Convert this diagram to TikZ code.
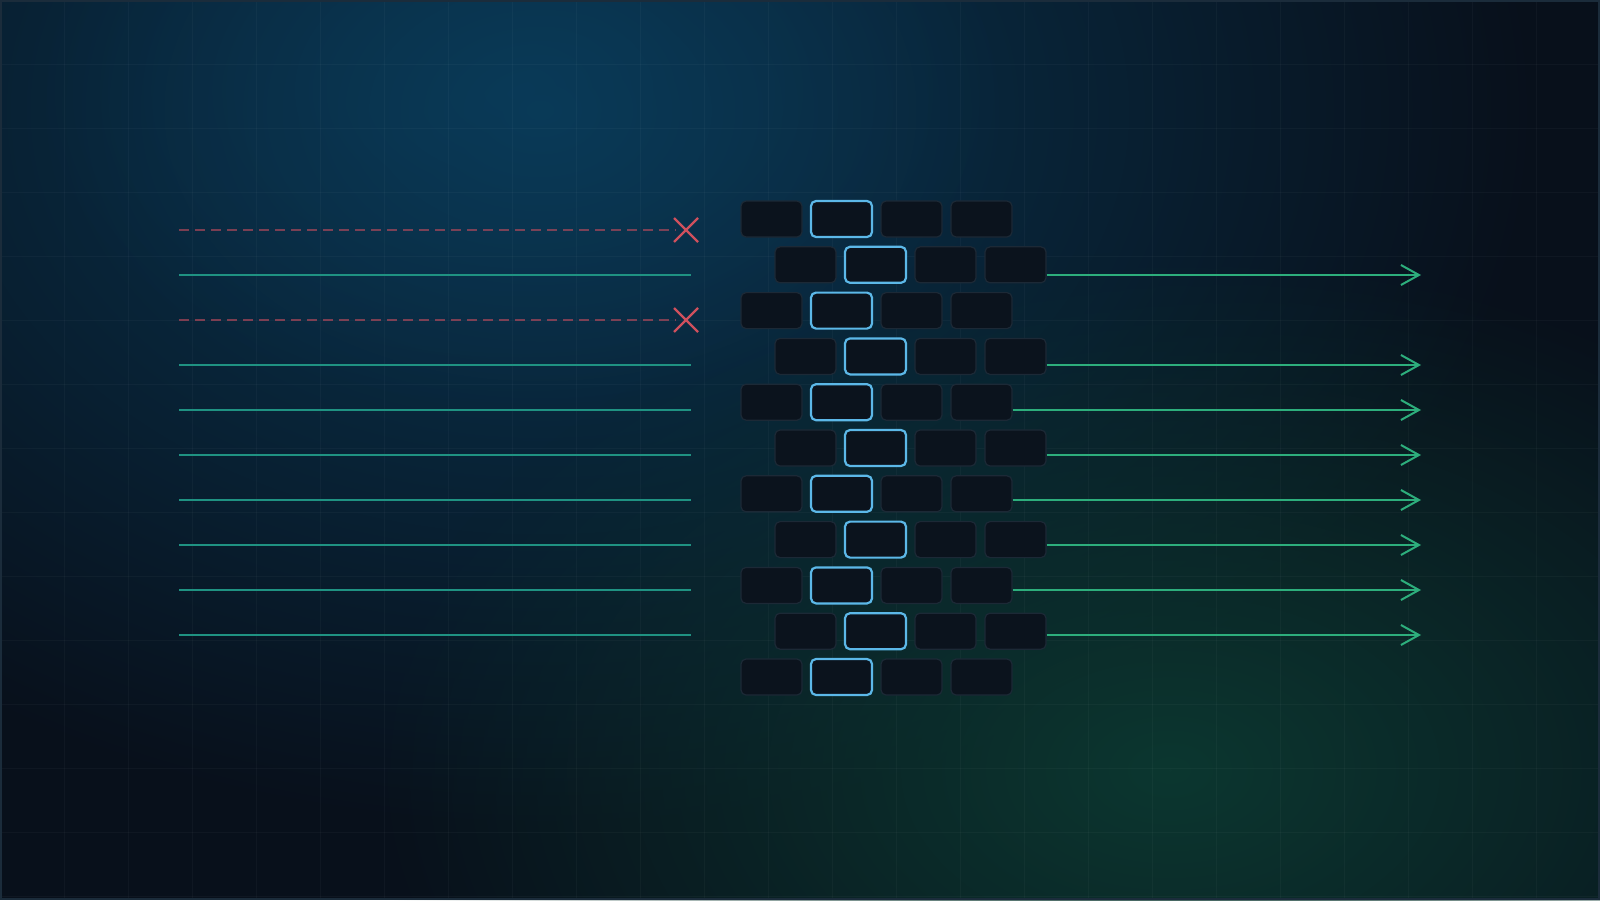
\documentclass[tikz,border=0pt]{standalone}
\usetikzlibrary{fadings,arrows.meta}
\definecolor{bgbase}{HTML}{08101B}
\definecolor{glowblue}{HTML}{0A4060}
\definecolor{glowgreen}{HTML}{0C3730}
\definecolor{cellfill}{HTML}{0B131D}
\definecolor{celledge}{HTML}{1C2936}
\definecolor{hiedge}{HTML}{5CB8E8}
\definecolor{leftline}{HTML}{1F9282}
\definecolor{rightline}{HTML}{2DAE7C}
\definecolor{dropred}{HTML}{B84A5C}
\definecolor{xred}{HTML}{CF505D}
\definecolor{framec}{HTML}{1B2C3B}
\tikzfading[name=radfade, inner color=transparent!0, outer color=transparent!100]
\begin{document}
\begin{tikzpicture}[x=1pt,y=-1pt,
  cell/.style={draw=celledge, fill=cellfill, line width=1.2pt, rounded corners=5pt,
    minimum width=61pt, minimum height=36pt, inner sep=0pt},
  hicell/.style={cell, draw=hiedge, line width=2.2pt},
  inline/.style={draw=leftline, line width=2pt},
  dropline/.style={draw=dropred, line width=1.8pt, dash pattern=on 10pt off 6pt, draw opacity=0.65},
  outarrow/.style={draw=rightline, line width=2pt, -{Straight Barb[length=18pt,width=20pt]}},
  xmark/.style={draw=xred, line width=2.2pt},
  gridline/.style={draw=white, draw opacity=0.03, line width=1pt}]
\useasboundingbox (0,0) rectangle (1600,900);
% background
\begin{scope}
  \clip (0,0) rectangle (1600,900);
  \fill[bgbase] (0,0) rectangle (1600,900);
  \fill[glowblue, path fading=radfade, fill opacity=0.8] (540,110) ellipse (1000 and 720);
  \fill[glowblue, path fading=radfade, fill opacity=0.45] (520,90) ellipse (500 and 330);
  \fill[glowgreen, path fading=radfade] (1170,770) ellipse (800 and 520);
  \foreach \gx in {64,128,...,1536} \draw[gridline] (\gx,0) -- (\gx,900);
  \foreach \gy in {64,128,...,896} \draw[gridline] (0,\gy) -- (1600,\gy);
\end{scope}
\draw[framec, line width=2pt] (1,1) rectangle (1599,899);
% cell rows
\foreach \i in {0,...,10} {
  \pgfmathsetmacro{\ry}{219+45.8*\i}
  \pgfmathsetmacro{\rx}{ifthenelse(mod(\i,2)==0,771.5,805.5)}
  \node[cell]   (r\i-1) at (\rx,\ry) {};
  \node[hicell] (r\i-2) at (\rx+70,\ry) {};
  \node[cell]   (r\i-3) at (\rx+140,\ry) {};
  \node[cell]   (r\i-4) at (\rx+210,\ry) {};
}
% input lines
\foreach \k in {0,...,9} {
  \coordinate (in\k) at (179,230+45*\k);
  \coordinate (out\k) at (1421,230+45*\k);
}
\foreach \k in {0,2} {
  \coordinate (end\k) at (676,230+45*\k);
  \coordinate (x\k) at (686,230+45*\k);
  \draw[dropline] (in\k) -- (end\k);
  \draw[xmark] ([shift={(-12,-12)}]x\k) -- ([shift={(12,12)}]x\k);
  \draw[xmark] ([shift={(-12,12)}]x\k) -- ([shift={(12,-12)}]x\k);
}
\foreach \k in {1,3,4,5,6,7,8,9} {
  \coordinate (end\k) at (691,230+45*\k);
  \draw[inline] (in\k) -- (end\k);
  \draw[outarrow] (r\k-4.east |- in\k) -- (out\k);
}
\end{tikzpicture}
\end{document}
